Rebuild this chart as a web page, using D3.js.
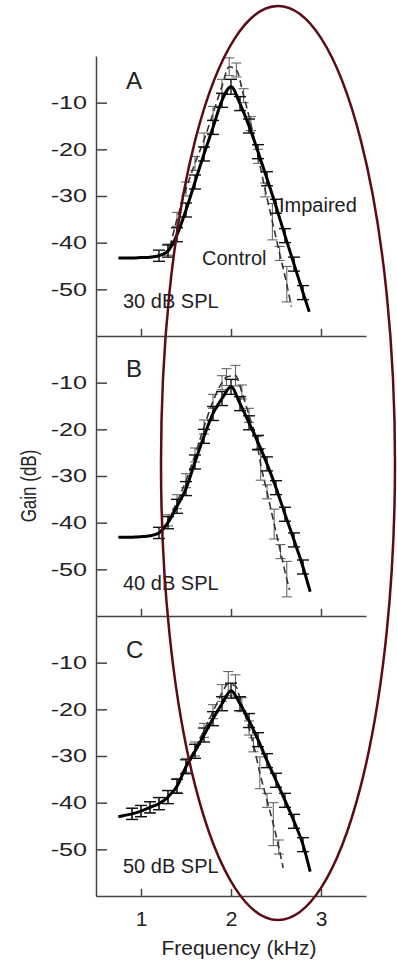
<!DOCTYPE html>
<html>
<head>
<meta charset="utf-8">
<script src="https://cdn.jsdelivr.net/npm/d3@7"></script>
<style>
  body { margin: 0; background: #fff; }
  svg { display: block; font-family: "Liberation Sans", Arial, sans-serif; }
</style>
</head>
<body>
<div id="chart"></div>
<script>
// gain (dB) vs frequency (kHz), three stimulus levels

// ---- panel A, 30 dB SPL
const freqImpA = [0.75, 0.9, 1.0, 1.1, 1.2, 1.3, 1.4, 1.5, 1.6, 1.7, 1.8, 1.9, 2.0, 2.1, 2.2, 2.3, 2.4, 2.5, 2.6, 2.7, 2.8, 2.87];
const gainImpA = [-43.3, -43.3, -43.2, -43.1, -42.8, -41.8, -38.3, -33, -27, -21, -15.3, -9.5, -6.6, -10.2, -15, -20.5, -26.3, -32.2, -38.5, -44.6, -50.7, -54.8];
const errImpA  = [0, 0, 0, 0, 1.2, 1.3, 1.5, 1.5, 1.5, 1.5, 1.5, 1.5, 1.6, 1.5, 1.5, 1.5, 1.5, 1.5, 1.5, 1.5, 1.5, 0];
const freqConA = [0.75, 0.9, 1.0, 1.1, 1.2, 1.3, 1.4, 1.5, 1.6, 1.7, 1.8, 1.9, 1.98, 2.06, 2.14, 2.22, 2.3, 2.38, 2.46, 2.54, 2.62, 2.67];
const gainConA = [-43.3, -43.3, -43.2, -43.1, -42.8, -41.5, -35, -28.5, -23, -18, -12.3, -6.5, -2.3, -3, -8.5, -14.5, -21.5, -28.7, -35.5, -42.3, -48.9, -53.7];
const errConA  = [0, 0, 0, 0, 0, 1.2, 1.5, 1.5, 1.5, 1.5, 1.5, 1.5, 1.9, 1.5, 1.5, 1.5, 1.5, 1.5, 3.9, 1.5, 3.8, 0];

// ---- panel B, 40 dB SPL
const freqImpB = [0.75, 0.9, 1.0, 1.1, 1.2, 1.3, 1.4, 1.5, 1.6, 1.7, 1.8, 1.9, 2.0, 2.1, 2.2, 2.3, 2.4, 2.5, 2.6, 2.7, 2.8, 2.88];
const gainImpB = [-43.1, -43.1, -43, -42.8, -42.2, -40, -36.5, -32.7, -27, -21.5, -16.6, -13.4, -10.9, -14.5, -18.6, -22.8, -27.4, -32.5, -38.2, -43.7, -49.5, -54.8];
const errImpB  = [0, 0, 0, 0, 1.2, 1.3, 1.5, 1.5, 1.5, 1.5, 1.5, 1.5, 1.6, 1.5, 1.5, 1.5, 1.5, 1.5, 1.5, 1.5, 1.5, 0];
const freqConB = [0.75, 0.9, 1.0, 1.1, 1.2, 1.3, 1.4, 1.5, 1.6, 1.7, 1.8, 1.9, 1.95, 2.05, 2.12, 2.2, 2.29, 2.33, 2.4, 2.48, 2.55, 2.62, 2.65];
const gainConB = [-43.1, -43.1, -43, -42.8, -42, -39.5, -35.5, -31, -25.5, -19.5, -14, -10, -8.8, -8.5, -12, -17, -23, -27.5, -33.4, -40.3, -46.2, -52.1, -54.4];
const errConB  = [0, 0, 0, 0, 0, 1.2, 1.5, 1.5, 1.5, 1.5, 1.5, 1.5, 1.8, 2.2, 1.5, 1.5, 1.5, 3.4, 1.5, 3.2, 1.5, 3.8, 0];

// ---- panel C, 50 dB SPL
const freqImpC = [0.75, 0.8, 0.9, 1.0, 1.1, 1.2, 1.3, 1.4, 1.5, 1.6, 1.7, 1.8, 1.9, 2.0, 2.1, 2.2, 2.3, 2.4, 2.5, 2.6, 2.7, 2.8, 2.88];
const gainImpC = [-43, -42.8, -42.4, -41.8, -41, -40.2, -38.8, -36.5, -32.3, -29, -25.5, -22, -18.8, -16, -18.8, -22.4, -26.5, -31, -35.2, -39.5, -44, -49, -54.8];
const errImpC  = [0, 0, 1.2, 1.2, 1.2, 1.3, 1.4, 1.5, 1.5, 1.5, 1.5, 1.5, 1.5, 1.6, 1.5, 1.5, 1.5, 1.5, 1.5, 1.5, 1.5, 1.5, 0];
const freqConC = [0.75, 0.9, 1.0, 1.1, 1.2, 1.3, 1.4, 1.5, 1.6, 1.7, 1.8, 1.9, 1.97, 2.05, 2.12, 2.2, 2.25, 2.32, 2.4, 2.47, 2.53, 2.58];
const gainConC = [-43, -42.4, -41.8, -41, -40.2, -38.8, -36.3, -32, -28.5, -24.5, -20.5, -16.5, -14.5, -15, -19, -24, -27.6, -33.6, -39.5, -44.6, -49.5, -54];
const errConC  = [0, 1.2, 1.2, 1.2, 1.3, 1.4, 1.5, 1.5, 1.5, 1.5, 1.5, 1.8, 2.6, 2.4, 1.5, 1.5, 1.5, 3.4, 1.5, 4.6, 1.5, 0];

const panelLetters = ["A", "B", "C"];
const levelLabels = ["30 dB SPL", "40 dB SPL", "50 dB SPL"];
const yTicks = [-10, -20, -30, -40, -50];
const xTicks = [1, 2, 3];

const toPoints = (f, g, e) => f.map((d, i) => ({ f: d, g: g[i], e: e[i] }));

const panels = [
  { imp: toPoints(freqImpA, gainImpA, errImpA), con: toPoints(freqConA, gainConA, errConA) },
  { imp: toPoints(freqImpB, gainImpB, errImpB), con: toPoints(freqConB, gainConB, errConB) },
  { imp: toPoints(freqImpC, gainImpC, errImpC), con: toPoints(freqConC, gainConC, errConC) }
];

const W = 397, H = 960;
const plotLeft = 96, plotRight = 366, plotTop = 56, panelH = 280;

const svg = d3.select("#chart").append("svg")
  .attr("width", W).attr("height", H);

const x = d3.scaleLinear().domain([0.5, 3.5]).range([plotLeft, plotRight]);
const y = d3.scaleLinear().domain([-60, 0]).range([panelH, 0]);

const line = d3.line()
  .x(d => x(d.f))
  .y(d => y(d.g))
  .curve(d3.curveMonotoneX);

// small I-shaped error bars
const drawBars = (g, pts, cap, colour, width) => {
  g.append("g")
    .attr("stroke", colour).attr("stroke-width", width)
    .selectAll("g")
    .data(pts.filter(d => d.e > 0)).join("g")
    .each(function (d) {
      const e = d3.select(this);
      const cx = x(d.f), y1 = y(d.g + d.e), y2 = y(d.g - d.e);
      e.append("line").attr("x1", cx).attr("x2", cx).attr("y1", y1).attr("y2", y2);
      e.append("line").attr("x1", cx - cap).attr("x2", cx + cap).attr("y1", y1).attr("y2", y1);
      e.append("line").attr("x1", cx - cap).attr("x2", cx + cap).attr("y1", y2).attr("y2", y2);
    });
};

panels.forEach((p, i) => {
  const g = svg.append("g")
    .attr("transform", `translate(0, ${plotTop + i * panelH})`);

  // y axis, ticks pointing in, labels stretched like the original scan
  const ya = g.append("g")
    .attr("transform", `translate(${plotLeft}, 0)`)
    .call(d3.axisLeft(y).tickValues(yTicks).tickSize(-11).tickSizeOuter(0).tickPadding(6.4)
      .tickFormat(d => String(d)));
  ya.selectAll("text")
    .attr("transform", "scale(1.4,1)")
    .attr("font-size", 18)
    .attr("font-family", "Liberation Sans, Arial, sans-serif")
    .attr("fill", "#222");

  // x axis at the bottom of each panel
  const xa = g.append("g")
    .attr("transform", `translate(0, ${panelH})`)
    .call(d3.axisBottom(x).tickValues(xTicks).tickSize(-7).tickSizeOuter(0).tickPadding(15.5)
      .tickFormat(d => String(d)));
  xa.selectAll("text")
    .attr("font-size", 21)
    .attr("font-family", "Liberation Sans, Arial, sans-serif")
    .attr("fill", "#222")
    .style("display", i === 2 ? null : "none");

  g.selectAll(".domain, .tick line")
    .attr("stroke", "#444").attr("stroke-width", 1.5);

  // control: dashed line with grey error bars
  drawBars(g, p.con, 5, "#666", 1.1);
  g.append("path")
    .datum(p.con)
    .attr("d", line)
    .attr("fill", "none")
    .attr("stroke", "#333")
    .attr("stroke-width", 1.6)
    .attr("stroke-dasharray", "7,4");

  // impaired: thick solid line with black error bars
  drawBars(g, p.imp, 6, "#111", 1.4);
  g.append("path")
    .datum(p.imp)
    .attr("d", line)
    .attr("fill", "none")
    .attr("stroke", "#000")
    .attr("stroke-width", 3);

  // panel letter and level
  g.append("text")
    .attr("x", 126).attr("y", [33, 41, 42][i])
    .attr("font-size", 24).attr("fill", "#222")
    .text(panelLetters[i]);

  g.append("text")
    .attr("x", 123).attr("y", [252, 254, 257][i])
    .attr("font-size", 20).attr("fill", "#222")
    .text(levelLabels[i]);
});

// series labels in panel A
svg.append("text").attr("x", 279).attr("y", 212)
  .attr("font-size", 20).attr("fill", "#222").text("Impaired");
svg.append("text").attr("x", 202).attr("y", 265)
  .attr("font-size", 20).attr("fill", "#222").text("Control");

// axis titles
svg.append("text")
  .attr("x", 239).attr("y", 955)
  .attr("text-anchor", "middle")
  .attr("font-size", 21).attr("fill", "#222")
  .text("Frequency (kHz)");

svg.append("text")
  .attr("transform", "translate(36, 486) scale(1.3,1) rotate(-90)")
  .attr("text-anchor", "middle")
  .attr("font-size", 17).attr("fill", "#222")
  .text("Gain (dB)");

// highlight ellipse drawn over the plots
svg.append("ellipse")
  .attr("cx", 278).attr("cy", 463)
  .attr("rx", 117).attr("ry", 457)
  .attr("fill", "none")
  .attr("stroke", "#5c0b17")
  .attr("stroke-width", 2.5);
</script>
</body>
</html>
